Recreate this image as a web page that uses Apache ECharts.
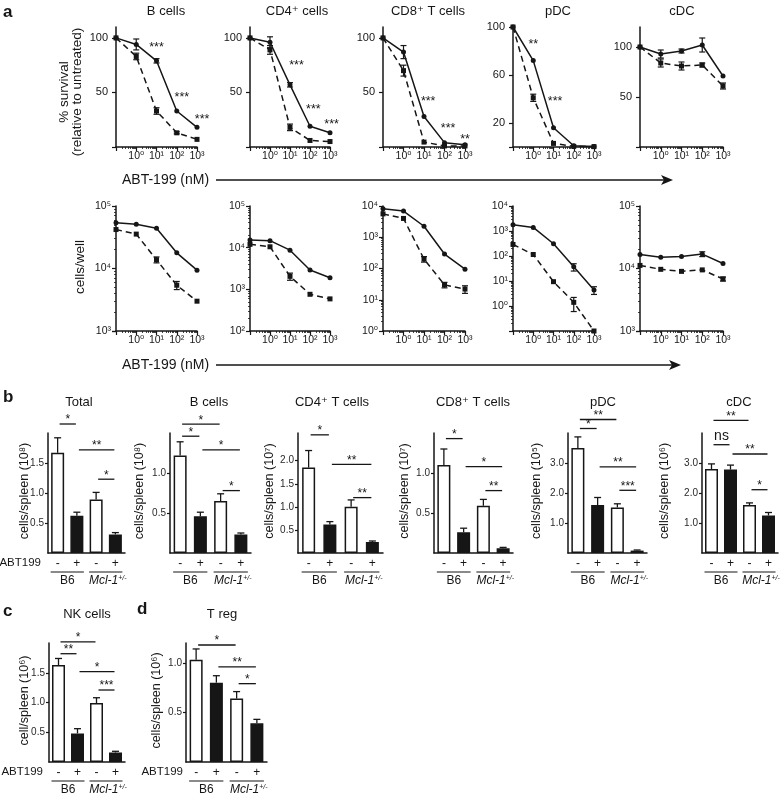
<!DOCTYPE html>
<html><head><meta charset="utf-8">
<script src="https://cdn.jsdelivr.net/npm/echarts@6/dist/echarts.min.js"></script>
<style>html,body{margin:0;padding:0;background:#fff}#c{width:780px;height:794px}</style>
</head><body><div id="c"></div><script>
const FONT = '"Liberation Sans", Arial, "DejaVu Sans", sans-serif';
const INK = '#161616';

// ================= DATA =================
// ---- panel a : dose response (x = ABT-199 nM; 0.1 = untreated control position) ----
const concentrations = [0.1, 1, 10, 100, 1000];
const cellTypesA = ['B cells', 'CD4⁺ cells', 'CD8⁺ T cells', 'pDC', 'cDC'];
// % survival (row 1): solid = B6, dashed = Mcl-1+/-
const survivalB6     = [[100,94,79,33,18],[100,96,57,19,13],[100,87,28,4,2],[100,72,16,1,0.5],[100,93,96,102,71]];
const survivalB6Err  = [[0,5,2,0,0],[0,5,2,0,0],[0,6,0,0,0],[0,0,0,0,0],[0,4,2,7,0]];
const survivalMcl    = [[100,83,33,13,7],[100,89,18,6,5],[100,70,4.5,1,1],[100,41,3,0.5,0.3],[100,84,81,82,61]];
const survivalMclErr = [[0,3,3,1,0],[0,4,3,0,0],[0,5,0,0,0],[0,3,0,0,0],[0,4,4,2,3]];
const survivalMax    = [110, 110, 110, 100, 120];
const survivalTicks  = [[50,100],[50,100],[50,100],[20,60,100],[50,100]];
const survivalStars  = [
  [[10,91,'***'],[180,45,'***'],[1780,25,'***']],
  [[21,75,'***'],[147,34,'***'],[1200,21,'***']],
  [[16,42,'***'],[150,17,'***'],[1000,7,'**']],
  [[1,85,'**'],[12,38,'***']],
  []
];
// cells/well (row 2)
const countsB6     = [[54000,51000,44000,17800,9400],[15200,14700,8700,2900,1900],[8200,6900,2250,290,95],[1780,1390,310,37,4.4],[16700,15100,15500,17000,12000]];
const countsB6Err  = [[0,0,0,0,0],[0,0,0,0,0],[0,0,0,0,0],[0,0,0,12,1.5],[0,0,0,1500,0]];
const countsMcl    = [[42000,35500,13800,5400,3000],[12000,10500,2050,760,590],[5600,4000,200,30,22],[290,115,9.4,1.4,0.1],[11200,9700,9000,9500,6800]];
const countsMclErr = [[0,0,1500,800,0],[0,0,400,0,0],[0,0,40,6,6],[0,0,0,0.8,0],[0,0,0,0,500]];
const countsRange  = [[1e3,1e5],[1e2,1e5],[1,1e4],[0.1,1e4],[1e3,1e5]];

// ---- panels b, c, d : bar charts ----
const barTitles = ['Total','B cells','CD4⁺ T cells','CD8⁺ T cells','pDC','cDC','NK cells','T reg'];
const barUnits  = ['cells/spleen (10⁸)','cells/spleen (10⁸)','cells/spleen (10⁷)','cells/spleen (10⁷)','cells/spleen (10⁵)','cells/spleen (10⁶)','cell/spleen (10⁶)','cells/spleen (10⁶)'];
const treatment = ['-', '+', '-', '+'];
const strains   = ['B6', 'Mcl-1'];
const barMeans  = [[1.67,0.62,0.89,0.31],[1.22,0.46,0.65,0.23],[1.85,0.62,1.0,0.24],[1.1,0.26,0.59,0.06],[3.5,1.6,1.52,0.08],[2.8,2.78,1.6,1.25],[1.63,0.48,0.99,0.16],[1.03,0.8,0.64,0.39]];
const barErrs   = [[0.25,0.06,0.12,0.03],[0.17,0.05,0.09,0.02],[0.37,0.06,0.15,0.02],[0.2,0.05,0.08,0.01],[0.37,0.25,0.12,0.02],[0.17,0.15,0.07,0.1],[0.11,0.08,0.09,0.02],[0.11,0.07,0.07,0.04]];
const barAxisMax = [2.0, 1.5, 2.6, 1.5, 4.0, 4.0, 2.0, 1.2];
const barTicks   = [[0.5,1.0,1.5],[0.5,1.0],[0.5,1.0,1.5,2.0],[0.5,1.0],[1.0,2.0,3.0],[1.0,2.0,3.0],[0.5,1.0,1.5],[0.5,1.0]];
const barSignif  = [
  [[0,1,2.15,'*'],[1,3,1.72,'**'],[2,3,1.23,'*']],
  [[0,2,1.61,'*'],[0,1,1.46,'*'],[1,3,1.29,'*'],[2,3,0.78,'*']],
  [[0,1,2.56,'*'],[1,3,1.92,'**'],[2,3,1.2,'**']],
  [[0,1,1.43,'*'],[1,3,1.08,'*'],[2,3,0.78,'**']],
  [[0,2,4.45,'**'],[0,1,4.15,'*'],[1,3,2.87,'**'],[2,3,2.09,'***']],
  [[0,2,4.42,'**'],[0,1,3.61,'ns'],[1,3,3.3,'**'],[2,3,2.11,'*']],
  [[0,2,2.02,'*'],[0,1,1.82,'**'],[1,3,1.52,'*'],[2,3,1.21,'***']],
  [[0,2,1.18,'*'],[1,3,0.96,'**'],[2,3,0.79,'*']]
];

// ================= LAYOUT =================
const lineCols = [[116,197],[250,330],[383,465],[513,594],[640,723]];
const lineRows = [[27,147],[206,331]];
const barBoxes = [[48,125,433,553],[170,251,433,553],[298,383,433,553],[434,513,433,553],[568,647,433,553],[702,778,433,553],[49,125,643,762],[186,267,643,762]];
const barTitlePos = [[79,402],[209,402],[332,402],[473,402],[603,402],[739,402],[87,614],[222,614]];
const barUnitX = [25,140,270,405,537,665,25,157];
const SUP = {'-1':'⁻¹','0':'⁰','1':'¹','2':'²','3':'³','4':'⁴','5':'⁵'};
const powLabel = v => { const e = Math.round(Math.log10(v)); return e < 0 ? '' : '10' + SUP[e]; };

const grids = [], xAxes = [], yAxes = [], series = [], graphics = [];
const lineStyleAxis = {color: INK, width: 1.5};

function errSeries(k, xs, ys, es) {
  const data = [];
  xs.forEach((x, i) => { if (es[i] > 0) data.push([x, ys[i], es[i]]); });
  return {type:'custom', xAxisIndex:k, yAxisIndex:k, clip:false, silent:true, z:4, data,
    renderItem(params, api) {
      const x = api.value(0), y = api.value(1), e = api.value(2);
      const t = api.coord([x, y + e]), b = api.coord([x, y - e]);
      const st = {stroke: INK, lineWidth: 1.2};
      return {type:'group', children:[
        {type:'line', shape:{x1:t[0], y1:t[1], x2:b[0], y2:b[1]}, style:st},
        {type:'line', shape:{x1:t[0]-3, y1:t[1], x2:t[0]+3, y2:t[1]}, style:st},
        {type:'line', shape:{x1:b[0]-3, y1:b[1], x2:b[0]+3, y2:b[1]}, style:st}]};
    }};
}
function textStyle(o) {
  return Object.assign({fill: INK, fontFamily: FONT, fontSize: 12, align:'center', verticalAlign:'middle', textAlign:'center', textVerticalAlign:'middle'}, o);
}

let k = 0;
for (let r = 0; r < 2; r++) {
  for (let p = 0; p < 5; p++) {
    const [x0, x1] = lineCols[p], [y0, y1] = lineRows[r];
    grids.push({left:x0, top:y0, width:x1-x0, height:y1-y0, containLabel:false});
    xAxes.push({gridIndex:k, type:'log', logBase:10, min:0.1, max:1000,
      axisLine:{show:true, onZero:false, lineStyle:lineStyleAxis},
      axisTick:{show:true, length:4, lineStyle:{color:INK, width:1.2}},
      minorTick:{show:true, splitNumber:9, length:2, lineStyle:{color:INK, width:0.8}},
      splitLine:{show:false}, minorSplitLine:{show:false},
      axisLabel:{interval:0, hideOverlap:false, margin:4, fontSize:10.5, color:INK, fontFamily:FONT, formatter: powLabel}});
    if (r === 0) {
      yAxes.push({gridIndex:k, type:'value', min:0, max:survivalMax[p],
        axisLine:{show:true, onZero:false, lineStyle:lineStyleAxis},
        axisTick:{show:true, length:4, customValues:[0].concat(survivalTicks[p]), lineStyle:{color:INK, width:1.2}},
        splitLine:{show:false},
        axisLabel:{customValues:survivalTicks[p], margin:8, fontSize:11, color:INK, fontFamily:FONT}});
    } else {
      yAxes.push({gridIndex:k, type:'log', logBase:10, min:countsRange[p][0], max:countsRange[p][1],
        axisLine:{show:true, onZero:false, lineStyle:lineStyleAxis},
        axisTick:{show:true, length:4, lineStyle:{color:INK, width:1.2}},
        minorTick:{show:true, splitNumber:9, length:2, lineStyle:{color:INK, width:0.8}},
        splitLine:{show:false}, minorSplitLine:{show:false},
        axisLabel:{margin:5, fontSize:10.5, color:INK, fontFamily:FONT, formatter: powLabel}});
    }
    const wt  = r === 0 ? survivalB6[p]  : countsB6[p];
    const wtE = r === 0 ? survivalB6Err[p] : countsB6Err[p];
    const mc  = r === 0 ? survivalMcl[p] : countsMcl[p];
    const mcE = r === 0 ? survivalMclErr[p] : countsMclErr[p];
    series.push({name:'B6', type:'line', xAxisIndex:k, yAxisIndex:k, clip:false, z:3,
      data: concentrations.map((c, i) => [c, wt[i]]),
      symbol:'circle', symbolSize:5, lineStyle:{color:INK, width:1.5}, itemStyle:{color:INK}});
    series.push({name:'Mcl-1+/-', type:'line', xAxisIndex:k, yAxisIndex:k, clip:false, z:3,
      data: concentrations.map((c, i) => [c, mc[i]]),
      symbol:'rect', symbolSize:5, lineStyle:{color:INK, width:1.5, type:[6,4]}, itemStyle:{color:INK}});
    series.push(errSeries(k, concentrations, wt, wtE));
    series.push(errSeries(k, concentrations, mc, mcE));
    if (r === 0 && survivalStars[p].length) {
      const stars = survivalStars[p];
      series.push({type:'custom', xAxisIndex:k, yAxisIndex:k, clip:false, silent:true, z:5,
        data: stars.map(s => [s[0], s[1]]),
        renderItem(params, api) {
          const s = stars[params.dataIndex];
          const pt = api.coord([s[0], s[1]]);
          return {type:'text', x:pt[0], y:pt[1], style:textStyle({text:s[2], fontSize:12.5})};
        }});
    }
    k++;
  }
}

// ---- bar panels ----
for (let p = 0; p < 8; p++) {
  const [x0, x1, y0, y1] = barBoxes[p];
  grids.push({left:x0, top:y0, width:x1-x0, height:y1-y0, containLabel:false});
  xAxes.push({gridIndex:k, type:'category', data:treatment, boundaryGap:true,
    axisLine:{show:true, onZero:false, lineStyle:lineStyleAxis}, axisTick:{show:false},
    axisLabel:{interval:0, margin:5, fontSize:12, color:INK, fontFamily:FONT}});
  yAxes.push({gridIndex:k, type:'value', min:0, max:barAxisMax[p],
    axisLine:{show:true, onZero:false, lineStyle:lineStyleAxis},
    axisTick:{show:true, length:3, customValues:barTicks[p], lineStyle:{color:INK, width:1.2}},
    splitLine:{show:false},
    axisLabel:{customValues:barTicks[p], margin:4, fontSize:10, color:'#2a2a2a', fontFamily:FONT, formatter: v => v.toFixed(1)}});
  series.push({type:'bar', xAxisIndex:k, yAxisIndex:k, barWidth:13, z:2,
    data: barMeans[p].map((v, i) => ({value:v, itemStyle:{color: i % 2 ? INK : '#fff', borderColor:INK, borderWidth:1.5}}))});
  const means = barMeans[p], errs = barErrs[p];
  series.push({type:'custom', xAxisIndex:k, yAxisIndex:k, clip:false, silent:true, z:1,
    data: means.map((v, i) => [i, v, errs[i]]),
    renderItem(params, api) {
      const i = api.value(0), v = api.value(1), e = api.value(2);
      const a = api.coord([i, v]), t = api.coord([i, v + e]);
      const st = {stroke: INK, lineWidth: 1.3};
      return {type:'group', children:[
        {type:'line', shape:{x1:a[0], y1:a[1], x2:t[0], y2:t[1]}, style:st},
        {type:'line', shape:{x1:t[0]-3.5, y1:t[1], x2:t[0]+3.5, y2:t[1]}, style:st}]};
    }});
  const sig = barSignif[p];
  series.push({type:'custom', xAxisIndex:k, yAxisIndex:k, clip:false, silent:true, z:5,
    data: sig.map(s => [s[0], s[2]]),
    renderItem(params, api) {
      const s = sig[params.dataIndex];
      const a = api.coord([s[0], s[2]]), b = api.coord([s[1], s[2]]);
      const xl = a[0] + 2, xr = b[0] - 1;
      const isNs = s[3] === 'ns';
      return {type:'group', children:[
        {type:'line', shape:{x1:xl, y1:a[1], x2:xr, y2:a[1]}, style:{stroke:INK, lineWidth:1.3}},
        {type:'text', x:(xl+xr)/2, y:a[1] - (isNs ? 2 : 4),
          style:textStyle({text:s[3], fontSize: isNs ? 14 : 12, verticalAlign: isNs ? 'bottom' : 'middle', textVerticalAlign: isNs ? 'bottom' : 'middle'})}]};
    }});
  // strain groups under the axis
  series.push({type:'custom', xAxisIndex:k, yAxisIndex:k, clip:false, silent:true, z:5,
    data: [[0, 0], [2, 0]],
    renderItem(params, api) {
      const g = api.value(0);
      const a = api.coord([g, 0]), b = api.coord([g + 1, 0]);
      const xl = a[0] - 7, xr = b[0] + 7, y = a[1];
      const isMcl = params.dataIndex === 1;
      const label = isMcl
        ? {type:'text', x:(xl+xr)/2 + 2, y:y + 28, style:textStyle({text:'{i|' + strains[1] + '}{s|+/-}',
            rich:{i:{fontStyle:'italic', fontSize:12, fontFamily:FONT, fill:INK, verticalAlign:'middle'},
                  s:{fontStyle:'italic', fontSize:7, fontFamily:FONT, fill:INK, verticalAlign:'top'}}})}
        : {type:'text', x:(xl+xr)/2, y:y + 28, style:textStyle({text:strains[0], fontSize:12})};
      return {type:'group', children:[
        {type:'line', shape:{x1:xl, y1:y + 19, x2:xr, y2:y + 19}, style:{stroke:INK, lineWidth:1.2}},
        label]};
    }});
  k++;
}

// ---- graphic text / arrows ----
function gtext(x, y, text, o) {
  o = o || {};
  graphics.push({type:'text', x, y, rotation:o.rot || 0, silent:true, z:10,
    style: textStyle(Object.assign({text, fontSize:13}, o.style || {}))});
}
const bold = {fontWeight:'bold', fontSize:17, align:'left', textAlign:'left'};
gtext(3, 12, 'a', {style:bold});
gtext(3, 397, 'b', {style:bold});
gtext(3, 611, 'c', {style:bold});
gtext(137, 609, 'd', {style:bold});
const lineTitleX = [166, 297, 428, 558, 682];
cellTypesA.forEach((t, i) => gtext(lineTitleX[i], 11, t, {style:{fontSize:13}}));
gtext(71, 92, '% survival\n(relative to untreated)', {rot:Math.PI/2, style:{fontSize:13.5, lineHeight:13}});
gtext(80, 267, 'cells/well', {rot:Math.PI/2, style:{fontSize:13.5}});
[[180, 673], [365, 681]].forEach(([y, tip]) => {
  gtext(122, y, 'ABT-199 (nM)', {style:{fontSize:14, align:'left', textAlign:'left'}});
  graphics.push({type:'line', silent:true, shape:{x1:216, y1:y, x2:tip - 8, y2:y}, style:{stroke:INK, lineWidth:1.5}});
  graphics.push({type:'polygon', silent:true, shape:{points:[[tip - 12, y - 5], [tip, y], [tip - 12, y + 5], [tip - 9, y]]}, style:{fill:INK}});
});
barTitles.forEach((t, i) => gtext(barTitlePos[i][0], barTitlePos[i][1], t, {style:{fontSize:13}}));
barUnits.forEach((t, i) => {
  const box = barBoxes[i];
  gtext(barUnitX[i], (box[2] + box[3]) / 2 - 2, t, {rot:Math.PI/2, style:{fontSize:12.5}});
});
[[0, 41], [6, 43], [7, 183]].forEach(([i, xr]) => {
  gtext(xr, barBoxes[i][3] + 10, 'ABT199', {style:{fontSize:11.5, align:'right', textAlign:'right'}});
});

const chart = echarts.init(document.getElementById('c'), null, {renderer:'canvas', width:780, height:794});
chart.setOption({animation:false, backgroundColor:'#fff', textStyle:{fontFamily:FONT},
  grid:grids, xAxis:xAxes, yAxis:yAxes, series, graphic:{elements:graphics}});
</script></body></html>
